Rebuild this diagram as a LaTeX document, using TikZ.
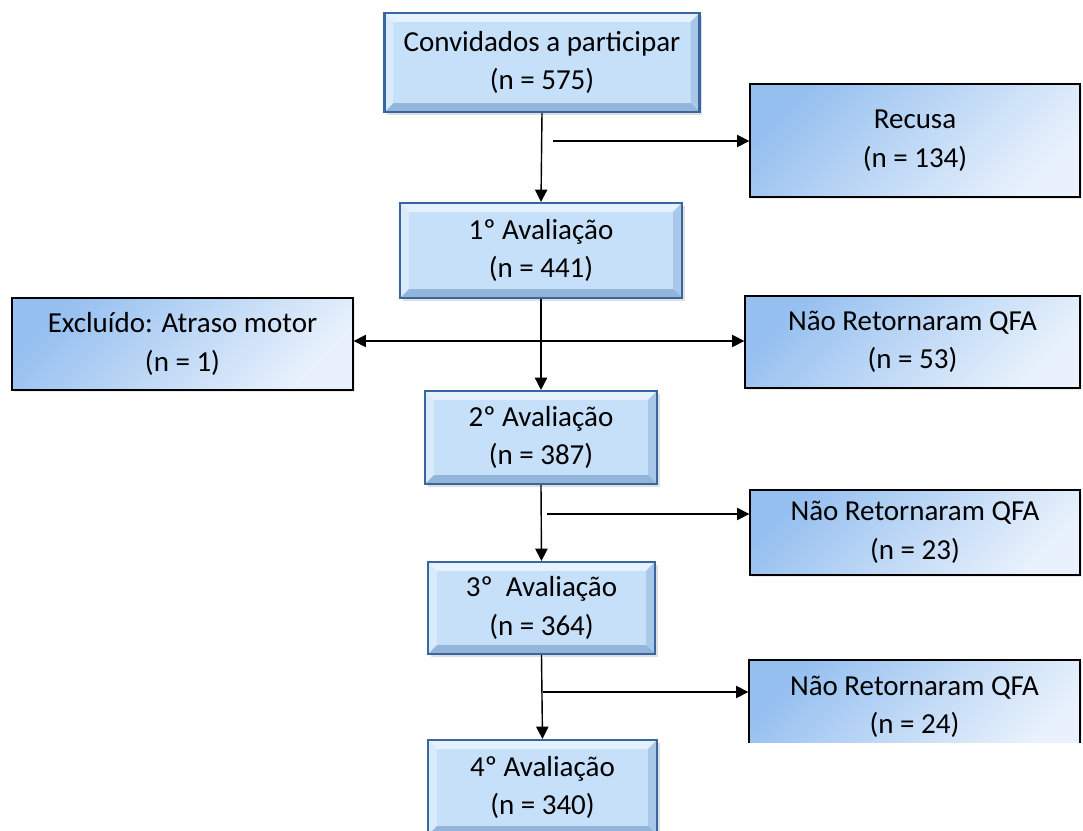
\documentclass[tikz,border=0pt]{standalone}
\usepackage{fontspec}
\setmainfont{Carlito}
\usetikzlibrary{arrows.meta,shadows}
\definecolor{mainfill}{RGB}{198,224,250}
\definecolor{mainedge}{RGB}{56,102,160}
\definecolor{sidetop}{RGB}{150,192,240}
\definecolor{sidebot}{RGB}{232,241,252}
\begin{document}
\begin{tikzpicture}[x=0.02cm, y=-0.02cm, >={Triangle[length=7pt,width=7pt]},
  mainbox/.style={draw=mainedge, line width=1.2pt, fill=mainfill, align=center,
    font=\fontsize{16.5pt}{22pt}\selectfont,
    drop shadow={opacity=0.25, shadow xshift=1.5pt, shadow yshift=-1.5pt},
    path picture={
      \fill[white, opacity=0.55] (path picture bounding box.north west) -- (path picture bounding box.north east)
        -- ([xshift=-5pt,yshift=-5pt]path picture bounding box.north east) -- ([xshift=5pt,yshift=-5pt]path picture bounding box.north west) -- cycle;
      \fill[white, opacity=0.35] (path picture bounding box.north west) -- (path picture bounding box.south west)
        -- ([xshift=5pt,yshift=5pt]path picture bounding box.south west) -- ([xshift=5pt,yshift=-5pt]path picture bounding box.north west) -- cycle;
      \fill[mainedge, opacity=0.35] (path picture bounding box.south west) -- (path picture bounding box.south east)
        -- ([xshift=-5pt,yshift=5pt]path picture bounding box.south east) -- ([xshift=5pt,yshift=5pt]path picture bounding box.south west) -- cycle;
      \fill[mainedge, opacity=0.2] (path picture bounding box.north east) -- (path picture bounding box.south east)
        -- ([xshift=-5pt,yshift=5pt]path picture bounding box.south east) -- ([xshift=-5pt,yshift=-5pt]path picture bounding box.north east) -- cycle;
    }},
  sidebox/.style={draw=black, line width=0.8pt, top color=sidetop, bottom color=sidebot, shading angle=45,
    align=center, font=\fontsize{16.5pt}{22pt}\selectfont,
    drop shadow={opacity=0.15, shadow xshift=1pt, shadow yshift=-1pt}},
  link/.style={line width=0.8pt}]
\useasboundingbox (0,0) rectangle (1083,831);

% main column
\node[mainbox, minimum width=6.3cm, minimum height=1.98cm] (conv) at (542,62.5) {Convidados a participar\\(n = 575)};
\node[mainbox, minimum width=5.64cm, minimum height=1.9cm] (av1) at (541,250.5) {1º Avaliação\\(n = 441)};
\node[mainbox, minimum width=4.64cm, minimum height=1.86cm] (av2) at (541,437.5) {2º Avaliação\\(n = 387)};
\node[mainbox, minimum width=4.54cm, minimum height=1.84cm] (av3) at (541.5,608) {3º\ \ Avaliação\\(n = 364)};
\node[mainbox, minimum width=4.58cm, minimum height=1.9cm] (av4) at (542.5,787.5) {4º Avaliação\\(n = 340)};

% side boxes
\node[sidebox, minimum width=6.6cm, minimum height=2.26cm] (recusa) at (915,140.5) {Recusa\\(n = 134)};
\node[sidebox, minimum width=6.82cm, minimum height=1.84cm] (excl) at (182.5,344) {Excluído: Atraso motor\\(n = 1)};
\node[sidebox, minimum width=6.7cm, minimum height=1.84cm] (nr53) at (912.5,342) {Não Retornaram QFA\\(n = 53)};
\node[sidebox, minimum width=6.6cm, minimum height=1.7cm] (nr23) at (915,532.5) {Não Retornaram QFA\\(n = 23)};
\begin{scope}
\clip (700,600) rectangle (1083,742);
\node[sidebox, minimum width=6.62cm, minimum height=1.88cm] (nr24) at (914.5,707) {Não Retornaram QFA\\(n = 24)};
\end{scope}

% connectors
\coordinate (b1) at (553,141);
\coordinate (b3) at (547,514);
\coordinate (b4) at (543,692);
\draw[link,->] (conv.south) -- (av1.north);
\draw[link,->] (b1) -- (b1 -| recusa.west);
\draw[link,->] (av1.south) -- (av2.north);
\draw[link,<->] (excl.east |- 0,341) -- (nr53.west |- 0,341);
\draw[link,->] (av2.south) -- (av3.north);
\draw[link,->] (b3) -- (b3 -| nr23.west);
\draw[link,->] (av3.south) -- (av4.north);
\draw[link,->] (b4) -- (b4 -| nr24.west);
\end{tikzpicture}
\end{document}
